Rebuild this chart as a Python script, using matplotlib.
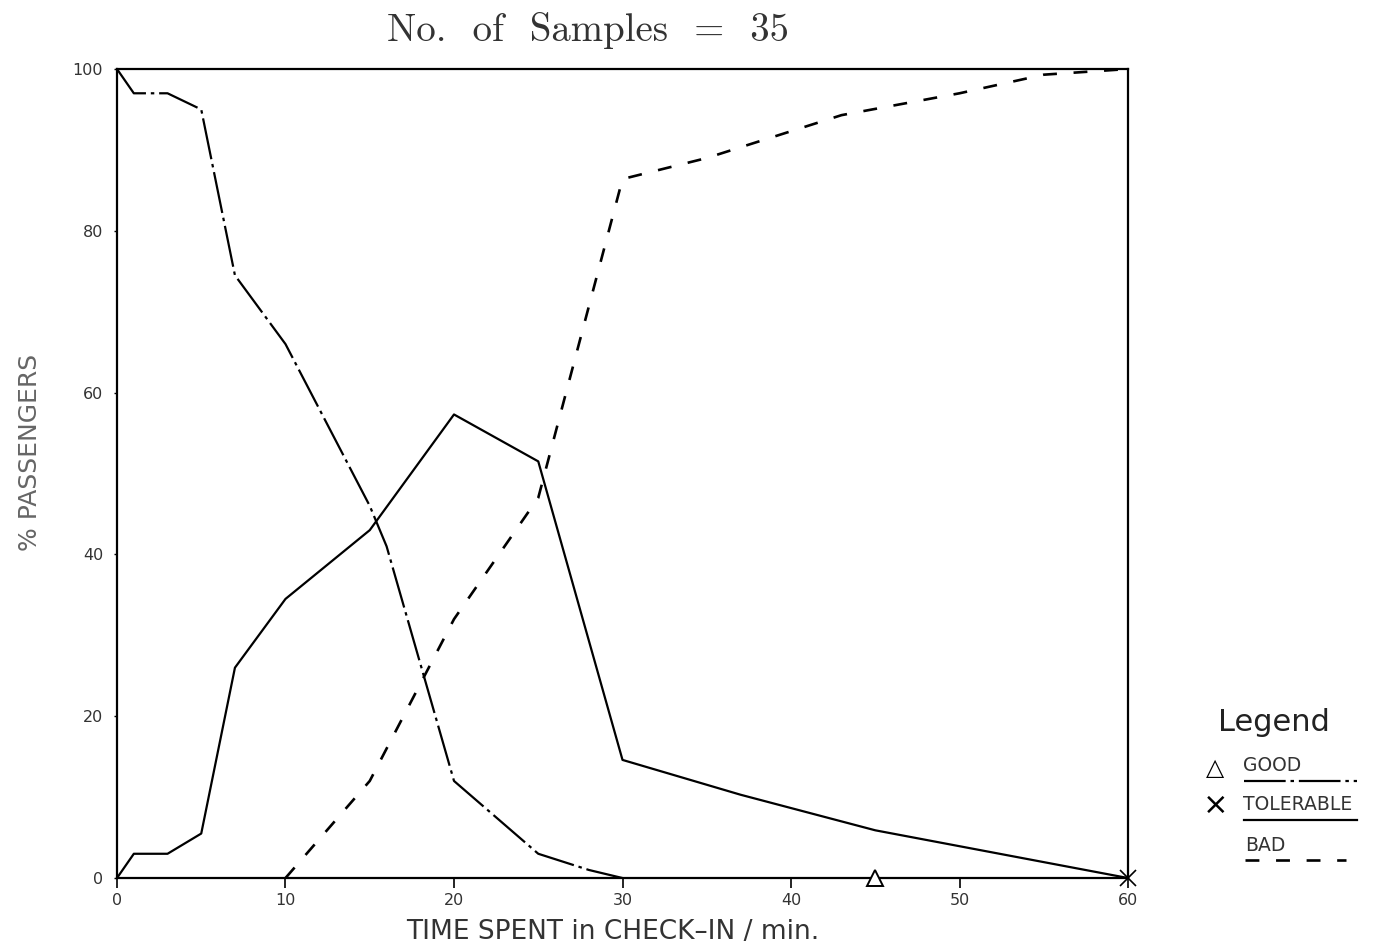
import matplotlib
matplotlib.use("Agg")
import matplotlib.pyplot as plt
from matplotlib.lines import Line2D

plt.rcParams['lines.scale_dashes'] = False

# % of passengers rating the check-in time
good_t = [0, 1, 3, 5, 7, 10, 15, 16, 20, 25, 28, 30]
good_pct = [100, 97, 97, 95, 74.5, 66, 46, 41, 12, 3, 1, 0]

tol_t = [0, 1, 3, 5, 7, 10, 15, 20, 25, 30, 37, 45, 60]
tol_pct = [0, 3, 3, 5.5, 26, 34.5, 43, 57.3, 51.5, 14.6, 10.3, 5.9, 0]

bad_t = [10, 15, 20, 25, 30, 35, 43, 50, 55, 60]
bad_pct = [0, 12, 32, 47, 86.4, 89, 94.3, 97, 99.3, 100]

x_ticks = [0, 10, 20, 30, 40, 50, 60]
y_ticks = [0, 20, 40, 60, 80, 100]

fig = plt.figure(figsize=(13.73, 9.48), dpi=100)
ax = fig.add_axes([0.0852, 0.0738, 0.7364, 0.8534])

ax.plot(good_t, good_pct, color='black', lw=1.6, dashes=(30, 3.5, 2.5, 3.5))
ax.plot(tol_t, tol_pct, color='black', lw=1.6)
ax.plot(bad_t, bad_pct, color='black', lw=1.9, dashes=(10, 12))

# category markers on the time axis
ax.plot([45], [0], marker='^', ms=11, mfc='white', mec='black', mew=1.4,
        clip_on=False, zorder=5)
ax.plot([60], [0], marker='x', ms=12, color='black', mew=1.2,
        clip_on=False, zorder=5)

ax.set_xlim(0, 60)
ax.set_ylim(0, 100)
ax.set_xticks(x_ticks)
ax.set_yticks(y_ticks)
ax.tick_params(axis='x', direction='out', length=7, width=1.2, labelsize=11.5, pad=4,
               labelcolor='#333333')
ax.tick_params(axis='y', direction='out', length=2, width=1.0, labelsize=11.5, pad=8,
               labelcolor='#333333')
for s in ax.spines.values():
    s.set_linewidth(1.6)

fig.text(0.428, 0.968, 'No.  of  Samples  =  35', family='cmr10', fontsize=28,
         ha='center', va='center', color='#333333')
fig.text(0.446, 0.017, 'TIME SPENT in CHECK\u2013IN / min.', fontsize=19,
         ha='center', va='center', color='#333333')
fig.text(0.022, 0.523, '% PASSENGERS', fontsize=18, rotation=90,
         ha='center', va='center', color='#666666')

# legend block to the right of the plot
fig.text(0.928, 0.238, 'Legend', fontsize=22, ha='center', va='center',
         color='#222222')
fig.text(0.885, 0.190, '\u25b3', fontsize=17, ha='center', va='center')
fig.text(0.885, 0.150, '\u00d7', fontsize=22, ha='center', va='center')
fig.text(0.905, 0.192, 'GOOD', fontsize=13.5, ha='left', va='center',
         color='#333333')
fig.text(0.905, 0.151, 'TOLERABLE', fontsize=13.5, ha='left', va='center',
         color='#333333')
fig.text(0.907, 0.108, 'BAD', fontsize=13.5, ha='left', va='center',
         color='#333333')
fig.add_artist(Line2D([0.906, 0.988], [0.176, 0.176], color='black', lw=1.6,
                      dashes=(30, 3.5, 2.5, 3.5)))
fig.add_artist(Line2D([0.906, 0.988], [0.135, 0.135], color='black', lw=1.6))
fig.add_artist(Line2D([0.907, 0.980], [0.093, 0.093], color='black', lw=1.9,
                      dashes=(10, 12)))

fig.savefig('out.png', dpi=100)
